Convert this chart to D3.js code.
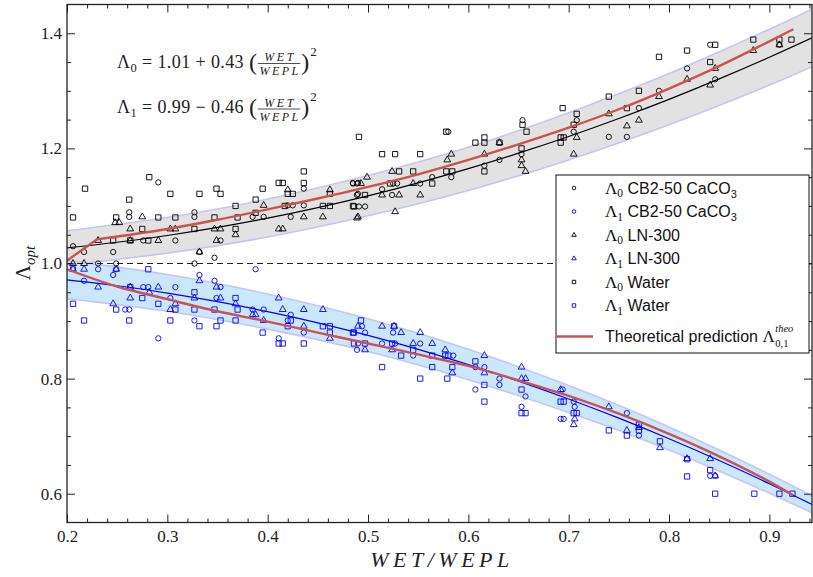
<!DOCTYPE html>
<html>
<head>
<meta charset="utf-8">
<script src="https://d3js.org/d3.v7.min.js"></script>
<style>
  html, body { margin: 0; padding: 0; background: #fff; }
  svg { display: block; }
  text { white-space: pre; }
</style>
</head>
<body>
<script>
var width = 813, height = 577;
var serif = "'Liberation Serif', 'DejaVu Serif', serif";
var sans = "'Liberation Sans', Arial, sans-serif";

// ticks
var xMajor = [0.2, 0.3, 0.4, 0.5, 0.6, 0.7, 0.8, 0.9];
var xMinor = [0.22, 0.24, 0.26, 0.28, 0.32, 0.34, 0.36, 0.38, 0.42, 0.44, 0.46, 0.48,
              0.52, 0.54, 0.56, 0.58, 0.62, 0.64, 0.66, 0.68, 0.72, 0.74, 0.76, 0.78,
              0.82, 0.84, 0.86, 0.88, 0.92, 0.94];
var yMajor = [0.6, 0.8, 1.0, 1.2, 1.4];
var yMinor = [0.65, 0.7, 0.75, 0.85, 0.9, 0.95, 1.05, 1.1, 1.15, 1.25, 1.3, 1.35];

// fitted curves (from the printed fit equations)
var fitX = [0.2, 0.25, 0.3, 0.35, 0.4, 0.45, 0.5, 0.55, 0.6, 0.65, 0.7, 0.75, 0.8, 0.85, 0.9, 0.9425];
var fit0 = [1.0272, 1.0369, 1.0487, 1.0627, 1.0788, 1.0971, 1.1175, 1.1401, 1.1648, 1.1917, 1.2207, 1.2519, 1.2852, 1.3207, 1.3583, 1.3920];
var fit1 = [0.9716, 0.9613, 0.9486, 0.9337, 0.9164, 0.8969, 0.8750, 0.8509, 0.8244, 0.7957, 0.7646, 0.7313, 0.6956, 0.6577, 0.6174, 0.5814];

// uncertainty bands
var bandX = [0.2, 0.3, 0.4, 0.5, 0.6, 0.7, 0.8, 0.9, 0.9425];
var band0Hi = [1.057, 1.080, 1.112, 1.153, 1.202, 1.262, 1.330, 1.407, 1.442];
var band0Lo = [0.997, 1.018, 1.046, 1.083, 1.127, 1.180, 1.241, 1.310, 1.342];
var band1Hi = [1.005, 0.981, 0.947, 0.904, 0.851, 0.788, 0.716, 0.634, 0.596];
var band1Lo = [0.939, 0.917, 0.886, 0.847, 0.798, 0.741, 0.676, 0.601, 0.567];

// theoretical prediction (upper one has a straight start up to the kink at 0.23)
var theoX0 = [0.2, 0.23, 0.3, 0.35, 0.4, 0.45, 0.5, 0.55, 0.6, 0.65, 0.7, 0.75, 0.8, 0.85, 0.9, 0.924];
var theo0 = [1.005, 1.042, 1.060, 1.076, 1.094, 1.113, 1.133, 1.155, 1.180, 1.207, 1.236, 1.268, 1.304, 1.343, 1.386, 1.407];
var theoX1 = [0.2, 0.25, 0.3, 0.35, 0.4, 0.45, 0.5, 0.55, 0.6, 0.65, 0.7, 0.75, 0.8, 0.85, 0.9, 0.924];
var theo1 = [0.990, 0.960, 0.938, 0.917, 0.899, 0.880, 0.861, 0.842, 0.822, 0.797, 0.770, 0.739, 0.704, 0.665, 0.621, 0.597];

// measured points [WET/WEPL, Lambda]
var cb2L0 = [[0.262,1.089],[0.262,1.081],[0.327,1.089],[0.327,1.081],[0.385,1.081],[0.396,1.081],
  [0.420,1.101],[0.425,1.101],[0.423,1.081],[0.436,1.101],[0.206,1.030],[0.217,1.020],[0.246,1.020],
  [0.276,1.040],[0.308,1.040],[0.353,1.040],[0.332,1.020],[0.347,1.010],[0.231,1.000],[0.249,1.000],
  [0.327,1.000],[0.291,1.141],[0.436,1.130],[0.485,1.140],[0.490,1.140],[0.490,1.121],
  [0.654,1.249],[0.580,1.229],[0.708,1.249],[0.705,1.229],[0.653,1.190],[0.631,1.180],[0.616,1.170],
  [0.583,1.150],[0.564,1.150],[0.552,1.139],[0.525,1.139],[0.529,1.139],[0.514,1.129],[0.485,1.139],
  [0.489,1.139],[0.489,1.119],[0.524,1.119],[0.491,1.099],[0.497,1.099],
  [0.841,1.380],[0.910,1.380],[0.818,1.339],[0.846,1.320],[0.790,1.300],[0.770,1.270],[0.740,1.220],[0.758,1.220]];
var cb2L1 = [[0.206,0.992],[0.231,0.990],[0.249,0.990],[0.388,0.990],[0.246,0.980],[0.217,0.970],
  [0.276,0.959],[0.281,0.959],[0.308,0.959],[0.332,0.980],[0.347,0.970],[0.353,0.959],[0.303,0.940],
  [0.258,0.920],[0.262,0.920],[0.349,0.940],[0.385,0.920],[0.396,0.920],[0.423,0.911],[0.420,0.901],
  [0.327,0.901],[0.411,0.870],[0.436,0.880],[0.291,0.870],[0.490,0.861],
  [0.494,0.891],[0.497,0.880],[0.525,0.880],[0.514,0.861],[0.527,0.861],[0.552,0.861],[0.489,0.850],
  [0.545,0.840],[0.585,0.840],[0.607,0.820],[0.616,0.820],[0.607,0.781],[0.631,0.800],[0.631,0.789],
  [0.657,0.769],[0.653,0.751],[0.694,0.781],[0.705,0.760],[0.706,0.751],[0.692,0.730],[0.695,0.730],
  [0.758,0.740],[0.770,0.701],[0.841,0.631],[0.846,0.631]];
var lnL0 = [[0.396,1.101],[0.436,1.081],[0.455,1.081],[0.490,1.081],[0.248,1.071],[0.252,1.071],
  [0.275,1.081],[0.231,1.040],[0.263,1.040],[0.291,1.040],[0.263,1.060],[0.303,1.060],[0.308,1.060],
  [0.347,1.060],[0.353,1.060],[0.368,1.050],[0.349,1.040],[0.332,1.020],[0.411,1.060],[0.415,1.060],
  [0.206,1.000],[0.217,1.000],[0.420,1.128],[0.462,1.128],
  [0.583,1.190],[0.579,1.180],[0.616,1.190],[0.631,1.210],[0.708,1.219],[0.705,1.190],[0.653,1.180],
  [0.653,1.170],[0.657,1.160],[0.524,1.160],[0.545,1.139],[0.499,1.150],[0.493,1.139],[0.514,1.119],
  [0.531,1.119],[0.552,1.119],[0.489,1.079],[0.527,1.090],
  [0.884,1.370],[0.910,1.380],[0.846,1.339],[0.818,1.320],[0.841,1.310],[0.790,1.290],[0.740,1.260],
  [0.758,1.239],[0.770,1.249]];
var lnL1 = [[0.206,0.990],[0.217,0.990],[0.249,0.990],[0.231,0.959],[0.263,0.959],[0.291,0.959],
  [0.282,0.950],[0.332,0.970],[0.349,0.959],[0.327,0.940],[0.246,0.930],[0.263,0.940],[0.308,0.930],
  [0.303,0.920],[0.353,0.940],[0.368,0.930],[0.411,0.940],[0.385,0.911],[0.388,0.911],[0.415,0.920],
  [0.436,0.920],[0.455,0.920],[0.396,0.901],[0.436,0.891],[0.462,0.870],
  [0.490,0.891],[0.514,0.891],[0.526,0.891],[0.533,0.880],[0.552,0.880],[0.545,0.861],[0.564,0.861],
  [0.497,0.850],[0.524,0.850],[0.577,0.850],[0.584,0.810],[0.616,0.840],[0.616,0.810],[0.653,0.820],
  [0.653,0.800],[0.657,0.800],[0.692,0.781],[0.706,0.730],[0.705,0.720],[0.740,0.751],[0.758,0.710],
  [0.770,0.715],[0.791,0.680],[0.818,0.661],[0.841,0.661],[0.846,0.631]];
var waterL0 = [[0.206,1.080],[0.262,1.111],[0.249,1.080],[0.291,1.080],[0.308,1.080],[0.347,1.080],
  [0.370,1.080],[0.388,1.088],[0.368,1.100],[0.417,1.100],[0.455,1.100],[0.462,1.100],[0.485,1.100],
  [0.246,1.040],[0.263,1.040],[0.281,1.040],[0.275,1.060],[0.327,1.060],[0.368,1.060],[0.388,1.111],
  [0.218,1.130],[0.282,1.150],[0.303,1.121],[0.332,1.121],[0.349,1.130],[0.353,1.121],[0.395,1.130],
  [0.411,1.140],[0.415,1.140],[0.436,1.160],[0.436,1.140],[0.420,1.121],[0.425,1.121],[0.462,1.121],
  [0.491,1.220],[0.514,1.190],[0.527,1.190],[0.552,1.190],[0.578,1.229],[0.607,1.210],[0.616,1.210],
  [0.616,1.219],[0.631,1.210],[0.654,1.241],[0.658,1.229],[0.653,1.200],[0.694,1.270],[0.708,1.260],
  [0.705,1.241],[0.692,1.219],[0.695,1.219],[0.692,1.210],[0.616,1.160],[0.522,1.139],[0.564,1.139],
  [0.545,1.160],[0.531,1.160],[0.578,1.160],[0.584,1.160],[0.486,1.099],[0.497,1.119],
  [0.790,1.359],[0.818,1.370],[0.846,1.380],[0.884,1.389],[0.910,1.389],[0.922,1.389],[0.841,1.350],
  [0.770,1.300],[0.740,1.290],[0.758,1.270]];
var waterL1 = [[0.281,0.990],[0.263,0.959],[0.327,0.950],[0.206,0.930],[0.249,0.920],[0.275,0.940],
  [0.291,0.930],[0.308,0.920],[0.327,0.920],[0.347,0.920],[0.368,0.940],[0.370,0.920],[0.217,0.901],
  [0.262,0.901],[0.303,0.901],[0.332,0.891],[0.349,0.891],[0.353,0.901],[0.368,0.901],[0.395,0.880],
  [0.411,0.861],[0.415,0.861],[0.436,0.861],[0.423,0.901],[0.420,0.891],[0.455,0.891],[0.462,0.880],
  [0.462,0.891],[0.485,0.880],
  [0.493,0.901],[0.526,0.891],[0.486,0.880],[0.486,0.861],[0.497,0.861],[0.524,0.861],[0.533,0.840],
  [0.545,0.850],[0.577,0.840],[0.580,0.840],[0.584,0.820],[0.514,0.820],[0.564,0.820],[0.564,0.840],
  [0.552,0.800],[0.579,0.800],[0.607,0.830],[0.616,0.789],[0.616,0.760],[0.653,0.781],[0.653,0.740],
  [0.657,0.740],[0.692,0.760],[0.695,0.760],[0.705,0.740],[0.708,0.740],[0.740,0.710],[0.758,0.701],
  [0.770,0.720],[0.770,0.710],[0.791,0.691],[0.818,0.660],[0.818,0.630],[0.841,0.641],[0.846,0.600],
  [0.885,0.600],[0.910,0.600],[0.923,0.600]];

var svg = d3.select("body").append("svg")
    .attr("width", width)
    .attr("height", height)
    .style("background-color", "white");

var x = d3.scaleLinear().domain([0.2, 0.9425]).range([67, 812]);
var y = d3.scaleLinear().domain([0.55, 1.45]).range([522.5, 4.5]);

svg.append("clipPath").attr("id", "plot")
  .append("rect").attr("x", 67).attr("y", 4.5).attr("width", 745).attr("height", 518);
var plot = svg.append("g").attr("clip-path", "url(#plot)");

// bands
function drawBand(hi, lo, fill) {
    var pts = bandX.map(function (d, i) { return { x: d, hi: hi[i], lo: lo[i] }; });
    plot.append("path").datum(pts)
        .attr("d", d3.area().curve(d3.curveNatural)
            .x(function (d) { return x(d.x); })
            .y0(function (d) { return y(d.lo); })
            .y1(function (d) { return y(d.hi); }))
        .attr("fill", fill);
    [hi, lo].forEach(function (edge) {
        plot.append("path").datum(bandX.map(function (d, i) { return [d, edge[i]]; }))
            .attr("d", d3.line().curve(d3.curveNatural)
                .x(function (d) { return x(d[0]); })
                .y(function (d) { return y(d[1]); }))
            .attr("fill", "none").attr("stroke", "#c4c6f0").attr("stroke-width", 1.6);
    });
}
drawBand(band0Hi, band0Lo, "#e2e2e2");
drawBand(band1Hi, band1Lo, "#cbe7fb");

// reference line at 1
plot.append("line")
    .attr("x1", x(0.2)).attr("x2", x(0.9425))
    .attr("y1", y(1)).attr("y2", y(1))
    .attr("stroke", "#222").attr("stroke-width", 1).attr("stroke-dasharray", "6,4");

// points
var symCircle = d3.symbol().type(d3.symbolCircle).size(22);
var symTri = d3.symbol().type(d3.symbolTriangle).size(20);
var symSquare = d3.symbol().type(d3.symbolSquare).size(28);

function drawPoints(data, sym, color) {
    plot.append("g").selectAll("path").data(data).enter().append("path")
        .attr("d", sym)
        .attr("transform", function (d) { return "translate(" + x(d[0]) + "," + y(d[1]) + ")"; })
        .attr("fill", "none").attr("stroke", color).attr("stroke-width", 0.9);
}
drawPoints(waterL0, symSquare, "#000");
drawPoints(lnL0, symTri, "#000");
drawPoints(cb2L0, symCircle, "#000");
drawPoints(waterL1, symSquare, "#0000ff");
drawPoints(lnL1, symTri, "#0000ff");
drawPoints(cb2L1, symCircle, "#0000ff");

// fit lines and prediction
function drawLine(xs, ys, color, w, curve) {
    plot.append("path").datum(xs.map(function (d, i) { return [d, ys[i]]; }))
        .attr("d", d3.line().curve(curve)
            .x(function (d) { return x(d[0]); })
            .y(function (d) { return y(d[1]); }))
        .attr("fill", "none").attr("stroke", color).attr("stroke-width", w)
        .attr("stroke-linejoin", "round");
}
drawLine(fitX, fit0, "#000", 1.2, d3.curveNatural);
drawLine(fitX, fit1, "#0000ff", 1.2, d3.curveNatural);
drawLine(theoX0.slice(0, 2), theo0.slice(0, 2), "#cc5252", 2.4, d3.curveLinear);
drawLine(theoX0.slice(1), theo0.slice(1), "#cc5252", 2.4, d3.curveMonotoneX);
drawLine(theoX1, theo1, "#cc5252", 2.4, d3.curveMonotoneX);

// axes
function addAxis(axis, tr) {
    var g = svg.append("g").attr("transform", tr).call(axis);
    g.select(".domain").remove();
    g.selectAll("line").attr("stroke", "#222").attr("stroke-width", 1);
    g.selectAll("text").attr("font-family", serif).attr("font-size", 17).attr("fill", "#222");
    return g;
}
var f1 = d3.format(".1f");
addAxis(d3.axisBottom(x).tickValues(xMajor).tickSize(-8).tickPadding(7).tickFormat(f1), "translate(0,522.5)");
addAxis(d3.axisBottom(x).tickValues(xMinor).tickSize(-4).tickFormat(""), "translate(0,522.5)");
addAxis(d3.axisTop(x).tickValues(xMajor).tickSize(-8).tickFormat(""), "translate(0,4.5)");
addAxis(d3.axisTop(x).tickValues(xMinor).tickSize(-4).tickFormat(""), "translate(0,4.5)");
addAxis(d3.axisLeft(y).tickValues(yMajor).tickSize(-8).tickPadding(5).tickFormat(f1), "translate(67,0)");
addAxis(d3.axisLeft(y).tickValues(yMinor).tickSize(-4).tickFormat(""), "translate(67,0)");
addAxis(d3.axisRight(y).tickValues(yMajor).tickSize(-8).tickFormat(""), "translate(812,0)");
addAxis(d3.axisRight(y).tickValues(yMinor).tickSize(-4).tickFormat(""), "translate(812,0)");

svg.append("rect").attr("x", 67).attr("y", 4.5).attr("width", 745).attr("height", 518)
    .attr("fill", "none").attr("stroke", "#222").attr("stroke-width", 1.3);

// axis titles
svg.append("text").attr("x", 442).attr("y", 567).attr("text-anchor", "middle")
    .attr("font-family", serif).attr("font-style", "italic").attr("font-size", 22)
    .attr("letter-spacing", 4.5).attr("fill", "#222").text("WET/WEPL");

var yl = svg.append("text").attr("transform", "translate(30,263) rotate(-90)")
    .attr("text-anchor", "middle").attr("font-family", serif).attr("font-size", 21).attr("fill", "#222");
yl.append("tspan").text("Λ");
yl.append("tspan").attr("font-style", "italic").attr("font-size", 15).attr("dy", 5).text("opt");

// fit equations
function equation(y0, sub, rest) {
    var t = svg.append("text").attr("x", 117).attr("y", y0)
        .attr("font-family", serif).attr("font-size", 18).attr("letter-spacing", 0.4).attr("fill", "#222");
    t.append("tspan").text("Λ");
    t.append("tspan").attr("font-size", 12.5).attr("dy", 4).text(sub);
    t.append("tspan").attr("dy", -4).text(rest);
    var px = 117 + t.node().getComputedTextLength();
    var lp = svg.append("text").attr("x", px).attr("y", y0 + 2)
        .attr("font-family", serif).attr("font-size", 24).attr("fill", "#222").text("(");
    px += lp.node().getComputedTextLength() + 1;
    var num = svg.append("text").attr("y", y0 - 6.5).attr("text-anchor", "middle")
        .attr("font-family", serif).attr("font-style", "italic").attr("font-size", 12)
        .attr("letter-spacing", 2.5).attr("fill", "#222").text("WET");
    var den = svg.append("text").attr("y", y0 + 7.5).attr("text-anchor", "middle")
        .attr("font-family", serif).attr("font-style", "italic").attr("font-size", 12)
        .attr("letter-spacing", 2.5).attr("fill", "#222").text("WEPL");
    var fw = Math.max(num.node().getComputedTextLength(), den.node().getComputedTextLength()) + 1;
    num.attr("x", px + fw / 2 + 1);
    den.attr("x", px + fw / 2 + 1);
    svg.append("line").attr("x1", px).attr("x2", px + fw).attr("y1", y0 - 4).attr("y2", y0 - 4)
        .attr("stroke", "#222").attr("stroke-width", 0.8);
    px += fw + 1;
    var rp = svg.append("text").attr("x", px).attr("y", y0 + 2)
        .attr("font-family", serif).attr("font-size", 24).attr("fill", "#222").text(")");
    px += rp.node().getComputedTextLength() + 1;
    svg.append("text").attr("x", px).attr("y", y0 - 12)
        .attr("font-family", serif).attr("font-size", 13).attr("fill", "#222").text("2");
}
equation(67.5, "0", " = 1.01 + 0.43 ");
equation(113, "1", " = 0.99 − 0.46 ");

// legend
var legendNames = ["CB2-50 CaCO", "CB2-50 CaCO", "LN-300", "LN-300", "Water", "Water"];
var legendSubs = ["0", "1", "0", "1", "0", "1"];
var legendRows = [188, 211.5, 235, 258.5, 282, 305.5];
var legendColors = ["#000", "#0000ff", "#000", "#0000ff", "#000", "#0000ff"];

var lg = svg.append("g");
lg.append("rect").attr("x", 556).attr("y", 175).attr("width", 253).attr("height", 178)
    .attr("fill", "white").attr("stroke", "#111").attr("stroke-width", 1);

var smallSyms = [d3.symbol().type(d3.symbolCircle).size(10), d3.symbol().type(d3.symbolTriangle).size(9),
                 d3.symbol().type(d3.symbolSquare).size(12)];
legendRows.forEach(function (ry, i) {
    lg.append("path").attr("d", smallSyms[Math.floor(i / 2)])
        .attr("transform", "translate(574," + ry + ")")
        .attr("fill", "none").attr("stroke", legendColors[i]).attr("stroke-width", 0.9);
    var t = lg.append("text").attr("x", 605).attr("y", ry + 5.5)
        .attr("font-family", sans).attr("font-size", 16).attr("fill", "#111");
    t.append("tspan").attr("font-family", serif).attr("font-size", 17).text("Λ");
    t.append("tspan").attr("font-family", serif).attr("font-size", 11.5).attr("dy", 3.5).text(legendSubs[i]);
    t.append("tspan").attr("dy", -3.5).text(" " + legendNames[i]);
    if (i < 2) {
        t.append("tspan").attr("font-size", 11).attr("dy", 4).text("3");
    }
});
lg.append("line").attr("x1", 557).attr("x2", 593).attr("y1", 336.5).attr("y2", 336.5)
    .attr("stroke", "#cc5252").attr("stroke-width", 2.4);
var tt = lg.append("text").attr("x", 605).attr("y", 342)
    .attr("font-family", sans).attr("font-size", 16).attr("fill", "#111");
tt.append("tspan").text("Theoretical prediction ");
tt.append("tspan").attr("font-family", serif).attr("font-size", 17).text("Λ");
var tx = 605 + tt.node().getComputedTextLength() + 0.5;
lg.append("text").attr("x", tx).attr("y", 332).attr("font-family", serif).attr("font-style", "italic")
    .attr("font-size", 10.5).attr("fill", "#111").text("theo");
lg.append("text").attr("x", tx).attr("y", 347).attr("font-family", serif)
    .attr("font-size", 10.5).attr("fill", "#111").text("0,1");
</script>
</body>
</html>
